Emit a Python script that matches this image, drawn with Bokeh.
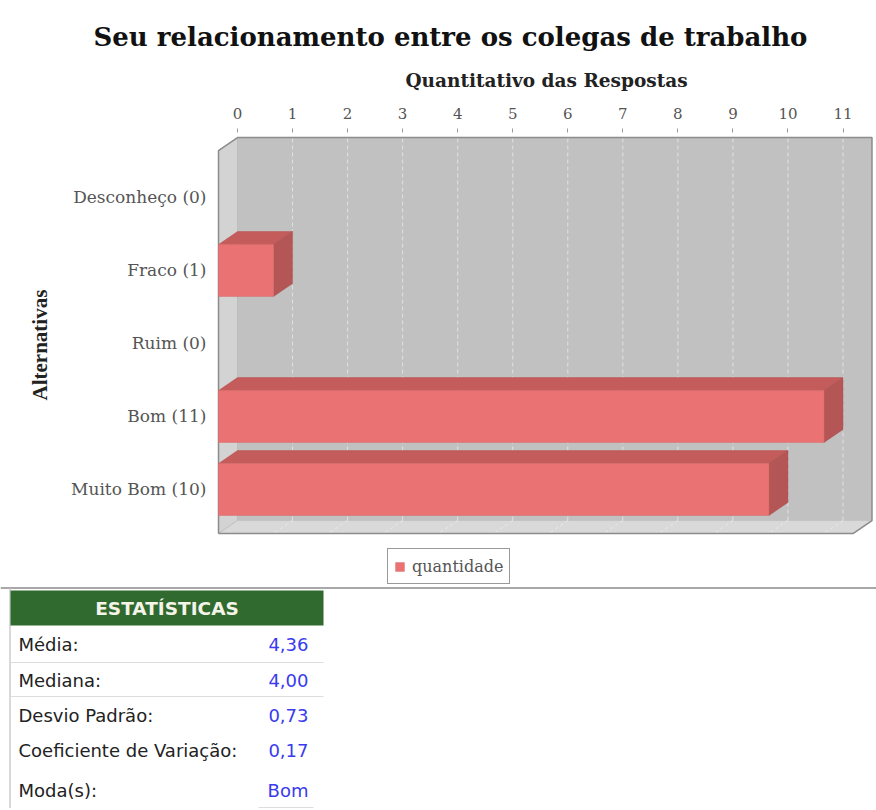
from bokeh.plotting import figure
from bokeh.models import Range1d, FixedTicker, Legend, LegendItem, Title
from bokeh.layouts import column
from bokeh.embed import file_html
from bokeh.resources import INLINE
from bokeh.core.properties import value

# ---------------- data ----------------
categories = ["Desconheço", "Fraco", "Ruim", "Bom", "Muito Bom"]
quantidade = [0, 1, 0, 11, 10]
x_ticks = [0, 1, 2, 3, 4, 5, 6, 7, 8, 9, 10, 11]

stat_labels = ["Média:", "Mediana:", "Desvio Padrão:", "Coeficiente de Variação:", "Moda(s):"]
stat_values = ["4,36", "4,00", "0,73", "0,17", "Bom"]

title_text = "Seu relacionamento entre os colegas de trabalho"
x_title = "Quantitativo das Respostas"
y_title = "Alternativas"
legend_label = "quantidade"
table_title = "ESTATÍSTICAS"

# ---------------- styling / geometry ----------------
SERIF = "DejaVu Serif"
SANS = "DejaVu Sans"
DX = 0.345      # 3D depth along value axis
DY = 0.178      # 3D depth along category axis
BAR_H = 0.71
WALL_X = 11.526
WALL_TOP = 4.82
WALL_BOT = -0.425

n = len(categories)
ypos = [n - 1 - i for i in range(n)]

p = figure(width=876, height=586, output_backend="svg", toolbar_location=None,
           x_range=Range1d(-0.3815, 11.608), y_range=Range1d(-1.3288, 4.890),
           x_axis_location="above", min_border_left=216, min_border_right=0,
           min_border_top=132, min_border_bottom=0)
p.frame_align = False
p.background_fill_color = "white"
p.border_fill_color = "white"
p.outline_line_color = None
p.xgrid.visible = False
p.ygrid.visible = False

# title
p.title.text = title_text
p.title.text_font = SERIF
p.title.text_font_size = "26px"
p.title.text_font_style = "bold"
p.title.text_color = "#111111"
p.title.align = "left"
p.title.offset = -123
p.title.standoff = 29

# x axis (above)
xa = p.xaxis[0]
xa.ticker = FixedTicker(ticks=x_ticks)
xa.axis_label = x_title
xa.axis_label_text_font = SERIF
xa.axis_label_text_font_size = "18.5px"
xa.axis_label_text_font_style = "bold"
xa.axis_label_text_color = "#222222"
xa.axis_label_standoff = 14
xa.axis_line_color = None
xa.major_tick_line_color = "#999999"
xa.major_tick_out = 4
xa.major_tick_in = 0
xa.minor_tick_line_color = None
xa.major_label_standoff = 10
xa.major_label_text_font = SERIF
xa.major_label_text_font_size = "15px"
xa.major_label_text_color = "#555555"

# y axis (left)
ya = p.yaxis[0]
ya.ticker = FixedTicker(ticks=ypos)
ya.major_label_overrides = {y: f"{c} ({q})" for y, c, q in zip(ypos, categories, quantidade)}
ya.axis_line_color = None
ya.major_tick_line_color = None
ya.minor_tick_line_color = None
ya.major_label_standoff = 4
ya.major_label_text_font = SERIF
ya.major_label_text_font_size = "17px"
ya.major_label_text_color = "#555555"

# y-axis title placed as a side title so it can sit at the reference height
p.add_layout(Title(text=y_title, align="left", offset=186, standoff=34,
                   text_font="Liberation Serif", text_font_size="21px",
                   text_font_style="bold", text_color="#222222"), "left")

# ---------------- 3D box ----------------
p.quad(left=[0], right=[WALL_X], bottom=[WALL_BOT], top=[WALL_TOP],
       fill_color="#c1c1c1", line_color=None)
p.patch(x=[-DX, -DX, 0, 0], y=[WALL_BOT - DY, WALL_TOP - DY, WALL_TOP, WALL_BOT],
        fill_color="#d3d3d3", line_color="#bdbdbd", line_width=1)
p.patch(x=[-DX, WALL_X - DX, WALL_X, 0], y=[WALL_BOT - DY, WALL_BOT - DY, WALL_BOT, WALL_BOT],
        fill_color="#d9d9d9", line_color="#c4c4c4", line_width=1)

gx = [t for t in x_ticks if t > 0]
p.segment(x0=gx, y0=[WALL_BOT] * len(gx), x1=gx, y1=[WALL_TOP] * len(gx),
          line_color="#e2e2e2", line_dash="4 3", line_width=1)
p.segment(x0=gx, y0=[WALL_BOT] * len(gx), x1=[t - DX for t in gx], y1=[WALL_BOT - DY] * len(gx),
          line_color="#eaeaea", line_dash="3 3", line_width=1)

p.line(x=[-DX, -DX, 0, WALL_X, WALL_X, WALL_X - DX, -DX],
       y=[WALL_BOT - DY, WALL_TOP - DY, WALL_TOP, WALL_TOP, WALL_BOT, WALL_BOT - DY, WALL_BOT - DY],
       line_color="#8c8c8c", line_width=1.5)

# ---------------- bars ----------------
top_xs, top_ys, side_xs, side_ys, front_l, front_r, front_b, front_t = [], [], [], [], [], [], [], []
for yc, v in zip(ypos, quantidade):
    if v <= 0:
        continue
    yt = yc + BAR_H / 2
    yb = yc - BAR_H / 2
    top_xs.append([-DX, v - DX, v, 0])
    top_ys.append([yt, yt, yt + DY, yt + DY])
    side_xs.append([v - DX, v - DX, v, v])
    side_ys.append([yb, yt, yt + DY, yb + DY])
    front_l.append(-DX)
    front_r.append(v - DX)
    front_b.append(yb)
    front_t.append(yt)

p.patches(xs=top_xs, ys=top_ys, fill_color="#c45c5c", line_color="#b85454", line_width=0.5)
p.patches(xs=side_xs, ys=side_ys, fill_color="#b55656", line_color="#a85050", line_width=0.5)
front = p.quad(left=front_l, right=front_r, bottom=front_b, top=front_t,
               fill_color="#ea7272", line_color="#d86868", line_width=0.5)

legend = Legend(items=[LegendItem(label=legend_label, renderers=[front])],
                location=(171, 2), orientation="horizontal",
                border_line_color="#333333", border_line_width=1.5,
                background_fill_color="white", background_fill_alpha=1.0,
                padding=6, margin=0, glyph_width=11, glyph_height=11,
                label_standoff=7, label_height=22,
                label_text_font=SERIF, label_text_font_size="16px",
                label_text_color="#555555")
p.add_layout(legend)

# ---------------- statistics table ----------------
t = figure(width=876, height=222, output_backend="svg", toolbar_location=None,
           x_range=Range1d(0, 876), y_range=Range1d(808, 586),
           x_axis_type=None, y_axis_type=None, min_border=0)
t.frame_align = False
t.outline_line_color = None
t.background_fill_color = "white"
t.border_fill_color = "white"
t.xgrid.visible = False
t.ygrid.visible = False

row_y = [644, 680, 715, 750, 790]
t.segment(x0=[0], y0=[587.5], x1=[876], y1=[587.5], line_color="#a8a8a8", line_width=2)
t.segment(x0=[9.5], y0=[588], x1=[9.5], y1=[808], line_color="#cccccc", line_width=1.5)
t.quad(left=[10], right=[323], top=[590], bottom=[625], fill_color="#316a2f", line_color=None)
t.text(x=[166.5], y=[608], text=[table_title], text_font=value(SANS), text_font_style="bold",
       text_font_size="18.5px", text_color="#f4f4e8", text_align="center", text_baseline="middle")
t.segment(x0=[10, 10], y0=[662, 696], x1=[323, 323], y1=[662, 696],
          line_color="#dddddd", line_width=1)
t.segment(x0=[258], y0=[807], x1=[313], y1=[807], line_color="#dddddd", line_width=1)
t.text(x=[18] * len(stat_labels), y=row_y, text=stat_labels, text_font=value(SANS),
       text_font_size="18px", text_color="#222222", text_baseline="middle")
t.text(x=[308] * len(stat_values), y=row_y, text=stat_values, text_font=value(SANS),
       text_font_size="18px", text_color="#3a3aee", text_baseline="middle", text_align="right")

layout = column(p, t, spacing=0)
open("out.html", "w").write(file_html(layout, INLINE))
